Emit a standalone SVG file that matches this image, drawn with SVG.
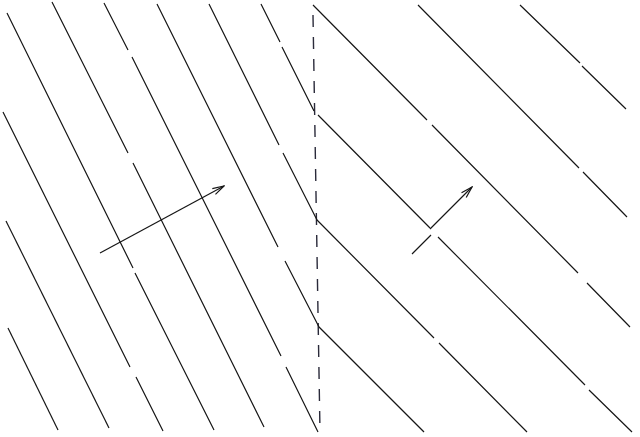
<svg xmlns="http://www.w3.org/2000/svg" width="640" height="437" viewBox="0 0 640 437">
<style>
.wf{fill:none;stroke:#161616;stroke-width:1.2;stroke-linecap:butt}
.bd{fill:none;stroke:#2a2a3a;stroke-width:1.4;stroke-dasharray:12 10}
.ray{fill:none;stroke:#161616;stroke-width:1.2}
</style>
<defs>
<marker id="vhead" markerUnits="userSpaceOnUse" viewBox="-13 -5 14 10" markerWidth="14" markerHeight="10" refX="0" refY="0" orient="auto">
<path d="M-11.5,-3.3 L0,0 L-11.5,3.3" fill="none" stroke="#161616" stroke-width="1.2"/>
</marker>
</defs>
<rect width="640" height="437" fill="#ffffff"/>
<g id="boundary">
<path class="bd" d="M313,15 L320,432"/>
</g>
<g id="incident-wavefronts">
<path class="wf" d="M8,328 L58,430"/>
<path class="wf" d="M6,221 L109,428"/>
<path class="wf" d="M3,112 L130,367 M136,377 L163,431"/>
<path class="wf" d="M7,13 L133,268 M135,273 L214,430"/>
<path class="wf" d="M52,2 L128,153 M133,163 L264,427"/>
<path class="wf" d="M104,3 L128,50 M132,57 L281,356 M286,367 L318,432"/>
<path class="wf" d="M157,4 L278,247 M285,261 L319,327"/>
<path class="wf" d="M209,4 L279,145 M283,153 L317,220"/>
<path class="wf" d="M261,4 L280,42 M282,47 L314,111"/>
</g>
<g id="refracted-wavefronts">
<path class="wf" d="M313,5 L427,120 M432,125 L578,273 M587,283 L630,327"/>
<path class="wf" d="M418,5 L579,168 M583,172 L627,217"/>
<path class="wf" d="M520,5 L580,63 M582,66 L626,109"/>
<path class="wf" d="M318,115 L430,228 M438,237 L585,385 M589,390 L632,432"/>
<path class="wf" d="M317,220 L434,338 M439,343 L527,432"/>
<path class="wf" d="M319,327 L424,432"/>
</g>
<g id="rays">
<path class="ray" d="M100,253 L224,186" marker-end="url(#vhead)"/>
<path class="ray" d="M412,254 L431,235 M430,229 L472,187" marker-end="url(#vhead)"/>
</g>
</svg>
